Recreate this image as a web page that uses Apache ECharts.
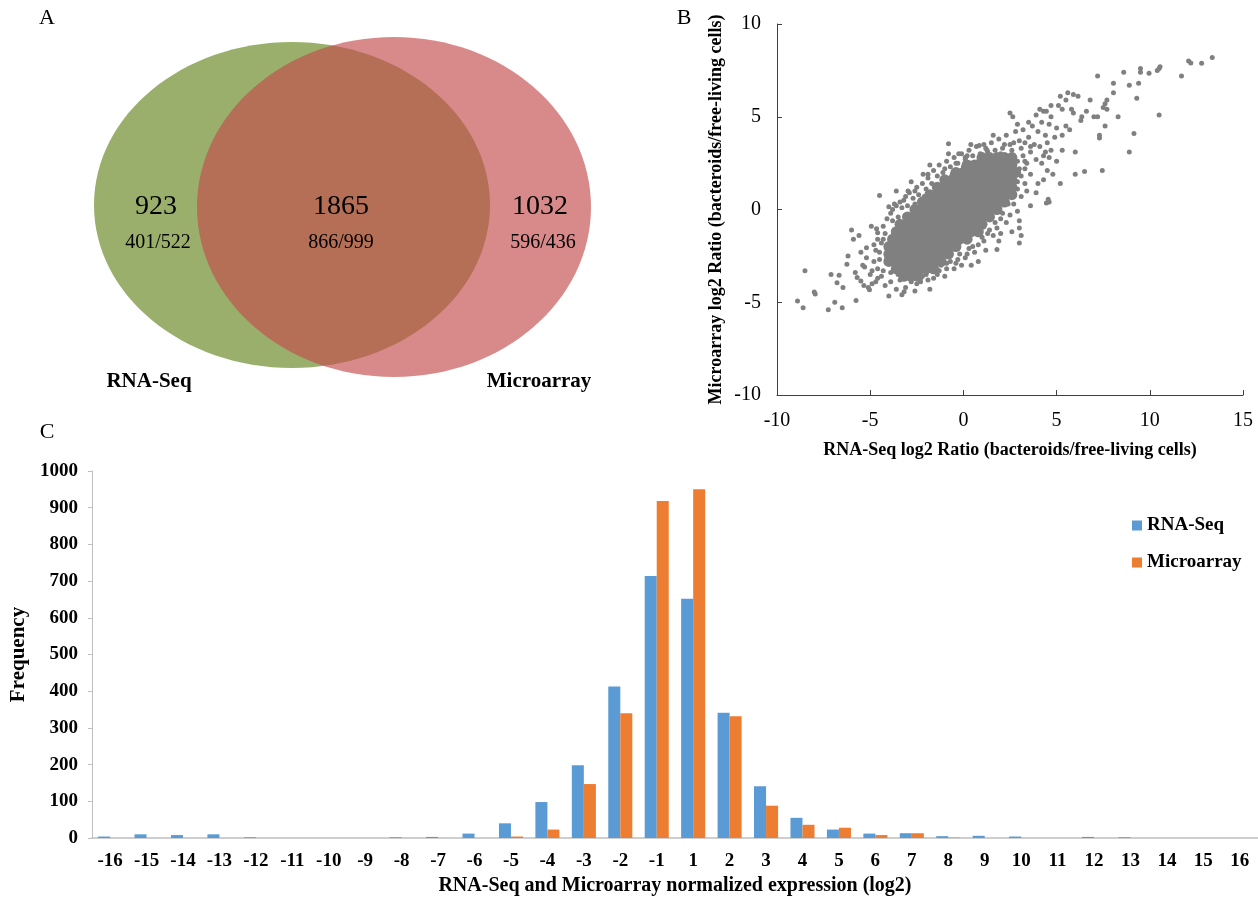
<!DOCTYPE html>
<html>
<head>
<meta charset="utf-8">
<style>html,body{margin:0;padding:0;background:#fff;}#chart{width:1258px;height:904px;}</style>
<script src="https://cdn.jsdelivr.net/npm/echarts@6/dist/echarts.min.js"></script>
</head>
<body>
<div id="chart"></div>
<script>
// ---------- Panel A: Venn ----------
const vennSets = ['RNA-Seq', 'Microarray'];
const vennCounts = [923, 1865, 1032];
const vennSplits = ['401/522', '866/999', '596/436'];

// ---------- Panel B: scatter (RNA-Seq log2 ratio, Microarray log2 ratio) ----------
// dense core, read row by row (y : x values)
const scatterCoreRows = [
  [-3.6, [-3.2, -2.8, -2.4]],
  [-3.2, [-3.6, -3.2, -2.8, -2.4, -2.0, -1.6]],
  [-2.8, [-4.0, -3.6, -3.2, -2.8, -2.4, -2.0, -1.6, -1.2]],
  [-2.4, [-4.0, -3.6, -3.2, -2.8, -2.4, -2.0, -1.6, -1.2, -0.8]],
  [-2.0, [-4.0, -3.6, -3.2, -2.8, -2.4, -2.0, -1.6, -1.2, -0.8, -0.4]],
  [-1.6, [-3.8, -3.4, -3.0, -2.6, -2.2, -1.8, -1.4, -1.0, -0.6, -0.2, 0.2]],
  [-1.2, [-3.6, -3.2, -2.8, -2.4, -2.0, -1.6, -1.2, -0.8, -0.4, 0.0, 0.4, 0.8]],
  [-0.8, [-3.4, -3.0, -2.6, -2.2, -1.8, -1.4, -1.0, -0.6, -0.2, 0.2, 0.6, 1.0]],
  [-0.4, [-3.0, -2.6, -2.2, -1.8, -1.4, -1.0, -0.6, -0.2, 0.2, 0.6, 1.0, 1.4]],
  [0.0, [-2.6, -2.2, -1.8, -1.4, -1.0, -0.6, -0.2, 0.2, 0.6, 1.0, 1.4, 1.8]],
  [0.4, [-2.2, -1.8, -1.4, -1.0, -0.6, -0.2, 0.2, 0.6, 1.0, 1.4, 1.8, 2.2]],
  [0.8, [-1.8, -1.4, -1.0, -0.6, -0.2, 0.2, 0.6, 1.0, 1.4, 1.8, 2.2, 2.6]],
  [1.2, [-1.4, -1.0, -0.6, -0.2, 0.2, 0.6, 1.0, 1.4, 1.8, 2.2, 2.6]],
  [1.6, [-1.0, -0.6, -0.2, 0.2, 0.6, 1.0, 1.4, 1.8, 2.2, 2.6]],
  [2.0, [-0.4, 0.0, 0.4, 0.8, 1.2, 1.6, 2.0, 2.4, 2.8]],
  [2.4, [0.2, 0.6, 1.0, 1.4, 1.8, 2.2, 2.6]],
  [2.8, [1.0, 1.4, 1.8, 2.2, 2.6]]
];
// scattered points around the core and outliers
const scatterPoints = [
  [-4.4,-1.8],[-4.5,-2.3],[-4.3,-0.9],[-4.1,-0.5],[-3.9,-0.2],[-3.7,0.3],[-3.5,-0.4],[-3.2,0.5],[-3.0,0.2],
  [-2.9,0.9],[-2.7,0.6],[-2.5,1.2],[-2.4,0.8],[-2.2,1.4],[-2.0,1.1],[-1.9,1.7],[-1.7,1.4],[-1.6,2.1],
  [-1.4,1.8],[-1.3,2.4],[-1.1,2.0],[-0.9,2.6],[-0.7,2.3],[-0.5,2.8],[-0.3,2.5],[-0.1,3.0],[0.1,2.7],
  [0.3,3.2],[0.5,2.9],[0.7,3.4],[0.9,3.0],[1.1,3.5],[1.3,3.1],[1.5,3.6],[1.7,3.2],[1.9,3.8],[2.1,3.3],
  [2.3,4.0],[2.5,3.5],[2.8,4.2],[3.0,3.7],[3.2,4.3],[3.5,3.9],[3.7,4.5],[4.0,4.2],[4.2,4.7],[4.4,4.0],
  [-3.8,-1.5],[-4.0,-2.0],[-3.4,-0.8],[-4.2,-1.3],[-4.6,-1.6],[-3.3,0.1],[-2.6,0.3],[-2.1,0.7],[-1.5,1.2],
  [-0.6,1.9],[0.0,2.3],[0.8,2.6],[1.4,2.9],[2.0,3.0],[2.6,3.2],[2.9,2.6],[3.1,3.3],
  [3.2,2.9],[3.4,2.5],[3.6,3.1],[3.9,2.7],[4.1,3.4],[4.3,2.9],[4.5,3.6],[4.7,3.2],[4.9,3.9],[3.1,1.8],
  [3.3,1.4],[3.6,1.9],[2.9,1.1],[3.1,0.7],[3.4,1.0],[2.7,0.3],[2.9,-0.1],[2.5,-0.3],[2.3,-0.7],[2.0,-0.5],
  [1.8,-1.0],[1.6,-1.4],[1.3,-1.3],[1.1,-1.7],[0.8,-1.9],[0.6,-2.3],[0.3,-2.1],[0.1,-2.6],[-0.2,-2.4],
  [-0.4,-2.9],[-0.7,-2.8],[-0.9,-3.2],[-1.2,-3.0],[-1.4,-3.5],[-1.7,-3.3],[-1.9,-3.8],[-2.2,-3.6],
  [-2.5,-4.0],[-2.8,-3.9],[-3.1,-4.2],[-3.4,-3.8],[-3.6,-4.3],[-3.9,-3.9],[-4.2,-4.1],[-4.4,-3.6],
  [-4.6,-3.2],[-4.8,-2.8],[-4.5,-2.7],[-5.0,-3.5],[-4.9,-4.0],[4.0,1.4],[4.5,2.1],[4.6,0.4],[3.6,0.2],
  [3.0,-1.0],[3.0,-0.6],[2.6,-1.2],[1.9,-1.7],[0.8,-2.8],[4.2,2.5],[4.6,2.8],[5.3,4.0],[5.5,4.5],
  [5.0,4.4],[4.6,4.6],[4.3,5.3],[3.9,5.1],[3.5,4.7],[2.9,4.6],[3.8,3.5],[4.4,3.1],[2.4,1.6],[3.3,2.2],
  [2.0,-1.3],[1.2,-2.2],[-0.1,-3.0],[-1.0,-3.6],[-2.6,-4.4],[-3.3,-4.6],[-4.7,-3.9],[-5.2,-2.6],
  [-5.3,-3.1],[-3.6,1.0],[-2.8,1.5],[-1.8,2.4],[-0.8,3.0],[0.4,3.5],[1.6,4.0],
  [-4.3,-3.3],[-4.1,-2.6],[-3.9,-3.4],[-3.7,-3.0],[-3.5,-3.5],[-3.0,-3.3],[-2.7,-3.6],[-2.3,-3.9],
  [-2.0,-3.5],[-1.6,-3.7],[-1.3,-3.3],[-0.9,-2.9],[-0.5,-3.2],[-0.3,-2.7],[0.2,-2.4],[0.5,-2.0],
  [1.0,-1.5],[1.4,-1.1],[1.7,-0.7],[2.1,-0.2],[2.4,0.3],[2.7,0.8],[2.9,1.5],[3.0,2.2],[3.3,2.6],
  [3.6,3.4],[3.3,3.6],[2.7,3.6],[2.2,3.5],[1.2,3.3],[0.2,2.9],[-0.4,2.5],[-1.0,2.2],[-1.9,1.9],
  [-2.6,1.0],[-3.1,0.7],[-3.8,-0.6],[-4.3,-1.6],[-4.7,-2.2],[-4.9,-3.3],[-4.6,-3.7],
  [13.35,8.19],[12.78,7.89],[12.08,8.0],[12.2,7.9],[11.7,7.2],[10.55,7.7],[10.4,7.5],[10.5,7.6],
  [9.96,7.35],[9.5,7.6],[9.5,7.4],[9.4,6.8],[8.9,6.7],[8.6,7.4],[8.05,6.8],[8.05,6.3],[7.2,7.2],
  [9.3,6.0],[10.5,5.1],[9.15,4.1],[8.9,3.1],[8.3,5.0],[7.7,5.9],[7.6,5.7],[7.7,5.4],[7.5,5.5],
  [7.6,4.5],[7.3,4.0],[7.3,3.85],[7.45,2.1],[7.2,5.0],[7.0,5.0],[6.8,5.9],[6.35,5.0],[6.15,6.1],
  [6.0,3.1],[6.0,1.9],[6.5,2.05],[5.6,6.3],[5.9,6.2],[5.5,5.9],[5.8,5.4],[5.9,5.2],[5.2,6.1],
  [5.1,5.6],[5.3,5.4],[4.7,5.6],[4.45,5.3],[4.7,5.0],[5.2,1.4],[4.55,0.55],[4.45,0.35],[4.1,5.4],
  [2.5,5.2],[2.65,5.0],[0.85,3.45],[-0.8,3.55],[1.8,-2.15],[3.0,-1.8],[0.42,-3.0],[-1.8,-4.3],
  [-4.0,-4.66],[-4.5,0.75],[-6.0,-1.1],[-8.5,-3.3],[-8.0,-4.45],[-7.95,-4.55],[-8.9,-4.93],
  [-8.6,-5.3],[-7.25,-5.4],[-6.9,-5.0],[-6.5,-5.3],[-7.1,-3.5],[-6.67,-3.55],[-6.78,-3.95],
  [-6.46,-4.2],[-6.19,-2.5],[-6.25,-2.95],[-5.76,-4.9],[-5.8,-3.4],[-5.7,-3.67],[-5.5,-3.85],
  [-5.34,-4.1],[-5.1,-4.2],[-5.04,-4.33],[-5.2,-2.06],[-4.94,-0.9],[-4.66,-1.04],[-4.6,-1.25],
  [-4.0,0.15],[-3.8,0.0],[-3.4,0.4],[-3.6,0.2],[-2.97,1.0],[-2.16,1.9],[-0.25,3.0],[0.1,2.8],
  [1.27,3.2],[-3.18,-4.44],[-5.9,-1.6],[-5.5,-2.3],[-5.6,-1.4],[-4.8,-1.9],[-5.4,-3.0],
  [5.0,2.6],[5.3,3.2],[4.8,1.9],[3.9,0.9],[4.3,1.6],[6.3,4.8],[6.6,5.3],[5.7,4.3],[3.1,-1.4]
];

// ---------- Panel C: histogram ----------
const binLabels = ['-16','-15','-14','-13','-12','-11','-10','-9','-8','-7','-6','-5','-4','-3','-2','-1',
  '1','2','3','4','5','6','7','8','9','10','11','12','13','14','15','16'];
const rnaSeqFreq = [4,10,8,10,2,0,0,0,2,3,12,40,98,198,413,714,
  652,341,141,55,23,12,13,5,6,4,0,3,2,0,0,0];
const microarrayFreq = [0,0,0,0,0,0,0,0,0,0,0,4,23,147,340,918,
  950,332,88,36,28,8,13,1,0,0,0,0,0,0,0,0];
const yTicksC = {min: 0, max: 1000, interval: 100};

const FONT = '"Liberation Serif", "Times New Roman", serif';

const coreData = [];
scatterCoreRows.forEach(function (r) { r[1].forEach(function (x) { coreData.push([x, r[0]]); }); });

const chart = echarts.init(document.getElementById('chart'), null, {renderer: 'canvas'});

function txt(text, x, y, size, bold) {
  return {type: 'text', z: 10, style: {text: text, x: x, y: y, fill: '#000',
    font: (bold ? 'bold ' : '') + size + 'px ' + FONT,
    textAlign: 'center', textVerticalAlign: 'middle', align: 'center', verticalAlign: 'middle'}};
}

const graphics = [
  {type: 'ellipse', z: 1, shape: {cx: 292, cy: 205, rx: 198, ry: 163}, style: {fill: 'rgb(153,175,107)'}},
  {type: 'ellipse', z: 2, shape: {cx: 394, cy: 207, rx: 197, ry: 170}, style: {fill: 'rgba(196,78,78,0.66)'}},
  txt(String(vennCounts[0]), 156, 207, 28, false),
  txt(vennSplits[0], 158, 243, 20, false),
  txt(String(vennCounts[1]), 341, 207, 28, false),
  txt(vennSplits[1], 341, 243, 20, false),
  txt(String(vennCounts[2]), 540, 207, 28, false),
  txt(vennSplits[2], 543, 243, 20, false),
  txt(vennSets[0], 149, 382, 21, true),
  txt(vennSets[1], 539, 382, 21, true),
  txt('A', 47, 18, 22, false),
  txt('B', 684, 18, 22, false),
  txt('C', 47, 432, 22, false)
];

const option = {
  animation: false,
  backgroundColor: '#fff',
  textStyle: {fontFamily: FONT},
  graphic: graphics,
  legend: {
    data: ['RNA-Seq', 'Microarray'], orient: 'vertical', left: 1127, top: 511,
    icon: 'rect', itemWidth: 10, itemHeight: 10, itemGap: 18,
    textStyle: {fontFamily: FONT, fontSize: 19, fontWeight: 'bold', color: '#000'}
  },
  grid: [
    {left: 777, top: 24, width: 466, height: 371},
    {left: 86, top: 471, right: 0, height: 367}
  ],
  xAxis: [
    {gridIndex: 0, type: 'value', min: -10, max: 15, interval: 5,
      axisLine: {onZero: false, lineStyle: {color: '#404040', width: 1}},
      axisTick: {inside: true, length: 5, lineStyle: {color: '#404040'}},
      splitLine: {show: false},
      axisLabel: {color: '#000', fontSize: 20, margin: 16, fontFamily: FONT},
      name: 'RNA-Seq log2 Ratio (bacteroids/free-living cells)', nameLocation: 'middle', nameGap: 46,
      nameTextStyle: {fontWeight: 'bold', fontSize: 18, color: '#000', fontFamily: FONT}},
    {gridIndex: 1, type: 'category', data: binLabels,
      axisLine: {lineStyle: {color: '#bfbfbf', width: 1.5}},
      axisTick: {show: false},
      axisLabel: {interval: 0, color: '#000', fontSize: 19, fontWeight: 'bold', margin: 14, fontFamily: FONT},
      name: 'RNA-Seq and Microarray normalized expression (log2)', nameLocation: 'middle', nameGap: 38,
      nameTextStyle: {fontWeight: 'bold', fontSize: 20, color: '#000', fontFamily: FONT}}
  ],
  yAxis: [
    {gridIndex: 0, type: 'value', min: -10, max: 10, interval: 5,
      axisLine: {show: true, onZero: false, lineStyle: {color: '#404040', width: 1}},
      axisTick: {show: true, inside: true, length: 5, lineStyle: {color: '#404040'}},
      splitLine: {show: false},
      axisLabel: {color: '#000', fontSize: 20, margin: 16, fontFamily: FONT},
      name: 'Microarray log2 Ratio (bacteroids/free-living cells)', nameLocation: 'middle', nameGap: 52,
      nameTextStyle: {fontWeight: 'bold', fontSize: 18, color: '#000', fontFamily: FONT}},
    {gridIndex: 1, type: 'value', min: yTicksC.min, max: yTicksC.max, interval: yTicksC.interval,
      axisLine: {show: true, lineStyle: {color: '#bfbfbf', width: 1}},
      axisTick: {show: true, length: 4, lineStyle: {color: '#bfbfbf'}},
      splitLine: {show: false},
      axisLabel: {color: '#000', fontSize: 19, fontWeight: 'bold', margin: 14, fontFamily: FONT,
        formatter: function (v) { return String(v); }},
      name: 'Frequency', nameLocation: 'middle', nameGap: 49,
      nameTextStyle: {fontWeight: 'bold', fontSize: 21, color: '#000', fontFamily: FONT}}
  ],
  series: [
    {name: 'core', type: 'scatter', xAxisIndex: 0, yAxisIndex: 0, data: coreData,
      symbolSize: 11, itemStyle: {color: '#808080', opacity: 1}, silent: true},
    {name: 'points', type: 'scatter', xAxisIndex: 0, yAxisIndex: 0, data: scatterPoints,
      symbolSize: 5, itemStyle: {color: '#808080', opacity: 1}, silent: true},
    {name: 'RNA-Seq', type: 'bar', xAxisIndex: 1, yAxisIndex: 1, data: rnaSeqFreq,
      barGap: '0%', barCategoryGap: '34%', itemStyle: {color: '#5B9BD5'}},
    {name: 'Microarray', type: 'bar', xAxisIndex: 1, yAxisIndex: 1, data: microarrayFreq,
      barGap: '0%', barCategoryGap: '34%', itemStyle: {color: '#ED7D31'}}
  ]
};
chart.setOption(option);
</script>
</body>
</html>
